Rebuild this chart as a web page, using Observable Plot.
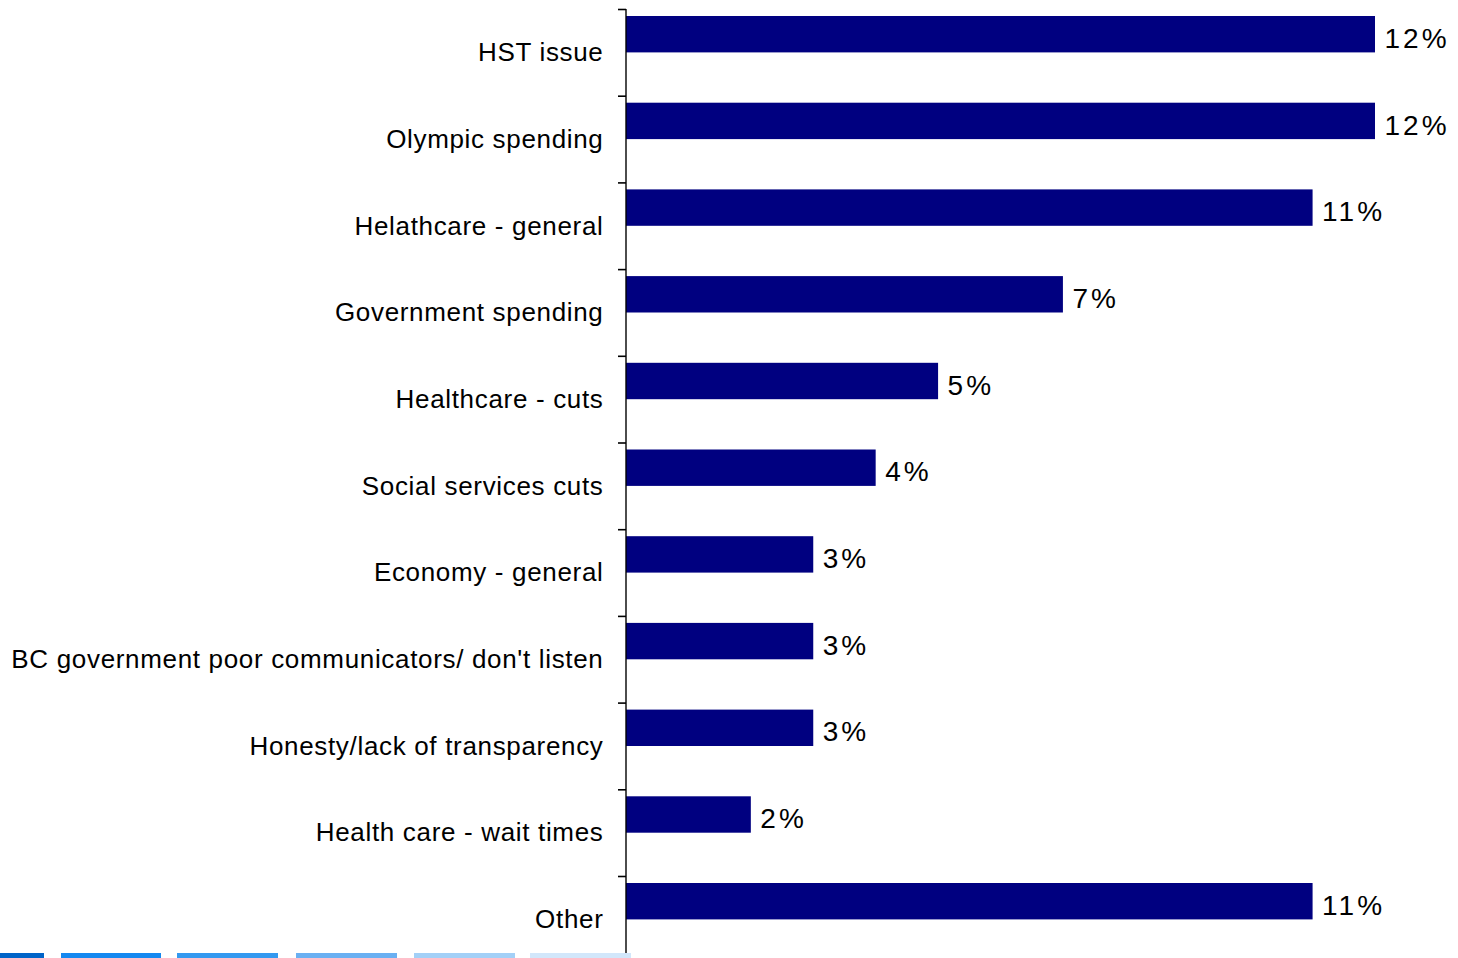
<!DOCTYPE html>
<html>
<head>
<meta charset="utf-8">
<script src="https://cdn.jsdelivr.net/npm/d3@7"></script>
<script src="https://cdn.jsdelivr.net/npm/@observablehq/plot@0.6"></script>
<style>
  html, body { margin: 0; padding: 0; background: #fff; }
  #wrap { position: relative; width: 1458px; height: 958px; overflow: hidden; }
  #chart svg { display: block; }
  #chart g[aria-label="y-axis tick label"] text { letter-spacing: 0.67px; }
  #chart g[aria-label="text"] text { letter-spacing: 3px; }
  .strip { position: absolute; top: 953px; height: 6px; }
</style>
</head>
<body>
<div id="wrap">
  <div id="chart"></div>
</div>
<script>
const categories = [
  "HST issue",
  "Olympic spending",
  "Helathcare - general",
  "Government spending",
  "Healthcare - cuts",
  "Social services cuts",
  "Economy - general",
  "BC government poor communicators/ don't listen",
  "Honesty/lack of transparency",
  "Health care - wait times",
  "Other"
];
const values = [12, 12, 11, 7, 5, 4, 3, 3, 3, 2, 11];
const stripColors = ["#0064C8", "#1488F0", "#3399F0", "#6AB0F2", "#A3D0F7", "#D2E7FB"];

const data = categories.map((c, i) => ({category: c, value: values[i]}));

const chart = Plot.plot({
  width: 1458,
  height: 958,
  marginLeft: 626,
  marginRight: 83,
  marginTop: 9,
  marginBottom: 0,
  style: {fontFamily: "'Liberation Sans', Arial, sans-serif", fontSize: "26px", color: "#000", background: "#fff"},
  x: {domain: [0, 12], axis: null},
  y: {domain: categories, range: [9, 962.7], padding: 0, round: false, axis: null},
  marks: [
    Plot.barX(data, {y: "category", x: "value", fill: "#000080", insetTop: 7, insetBottom: 43.3}),
    Plot.text(data, {y: "category", x: "value", text: d => d.value + "%", textAnchor: "start", dx: 9, dy: -14, fontSize: 28, fill: "#000"}),
    Plot.axisY({tickSize: 8, tickFormat: null, label: null, dy: -43.35, stroke: "#000", strokeWidth: 1.6}),
    Plot.axisY({tickSize: 0, tickPadding: 23, fontSize: 26, fill: "#000", label: null}),
    Plot.ruleX([0], {stroke: "#000", strokeWidth: 1.4, dx: -0.5})
  ]
});
document.getElementById("chart").appendChild(chart);

const strips = [[0, 44], [61, 161], [177, 278], [296, 397], [414, 515], [530, 631]];
strips.forEach(([a, b], i) => {
  const d = document.createElement("div");
  d.className = "strip";
  d.style.left = a + "px";
  d.style.width = (b - a) + "px";
  d.style.background = stripColors[i];
  document.getElementById("wrap").appendChild(d);
});
</script>
</body>
</html>
